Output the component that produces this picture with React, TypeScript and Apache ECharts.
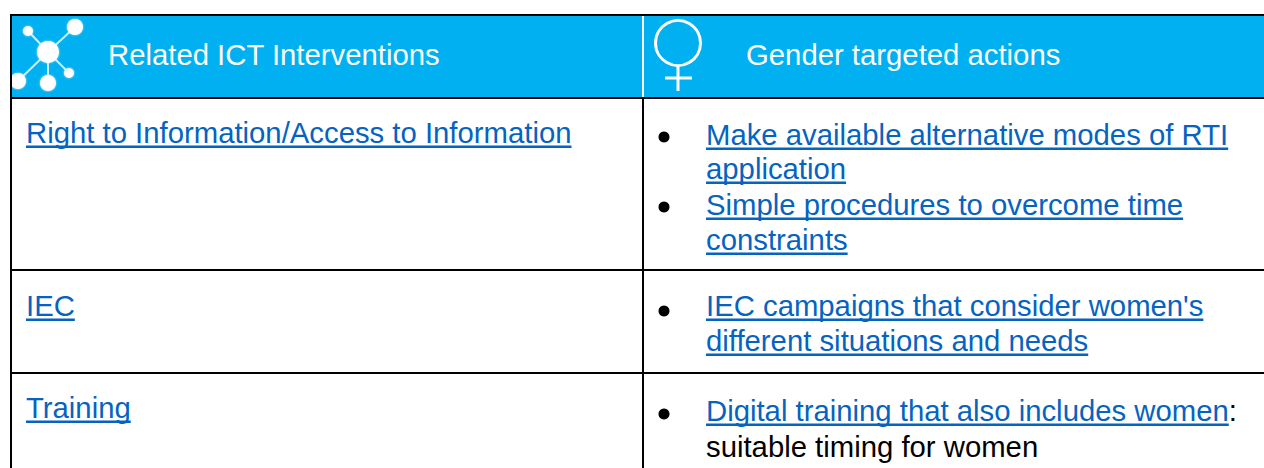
import React, { useEffect, useRef } from "react";
import * as echarts from "echarts";

const headers = ["Related ICT Interventions", "Gender targeted actions"];
const interventions = ["Right to Information/Access to Information", "IEC", "Training"];
const actionLines = [
  "Make available alternative modes of RTI",
  "application",
  "Simple procedures to overcome time",
  "constraints",
  "IEC campaigns that consider women's",
  "different situations and needs",
  "Digital training that also includes women",
  "suitable timing for women",
];

const FONT = '"Liberation Sans", Arial, sans-serif';
const SIZE = 29.3;
const LINK = "#0563C1";
const BLUE = "#00B0F0";
const DROP = 4;

function textWidth(t: string) {
  const c = document.createElement("canvas").getContext("2d")!;
  c.font = `${SIZE}px ${FONT}`;
  return c.measureText(t).width;
}

function label(t: string, x: number, baseline: number, color: string) {
  return { type: "text", x, y: baseline + DROP, style: { text: t, fill: color, font: `${SIZE}px ${FONT}`, textBaseline: "bottom", textVerticalAlign: "bottom" } };
}

function linkText(t: string, x: number, baseline: number, color = LINK, underline = true) {
  const out: any[] = [label(t, x, baseline, color)];
  if (underline) {
    out.push({ type: "rect", shape: { x, y: baseline + 2.5, width: textWidth(t), height: 2.5 }, style: { fill: color } });
  }
  return out;
}

export default function App() {
  const ref = useRef<HTMLDivElement>(null);
  useEffect(() => {
    document.body.style.margin = "0";
    const chart = echarts.init(ref.current!, undefined, { renderer: "svg" });
    const els: any[] = [];
    const bar = (x: number, y: number, width: number, height: number, fill = "#000") =>
      els.push({ type: "rect", shape: { x, y, width, height }, style: { fill } });
    const white = { fill: "#fff", shadowBlur: 2, shadowColor: "rgba(255,255,255,0.7)" };
    const seg = (x1: number, y1: number, x2: number, y2: number, w = 2, stroke = "rgba(255,255,255,0.8)") =>
      els.push({ type: "line", shape: { x1, y1, x2, y2 }, style: { stroke, lineWidth: w } });
    const dot = (cx: number, cy: number, r: number) =>
      els.push({ type: "circle", shape: { cx, cy, r }, style: white });

    bar(11, 15, 1253, 83, BLUE);
    bar(642, 16, 2, 82, "#fff");

    [[75, 27], [28, 31], [69, 73], [48, 83], [18, 81]].forEach(([x, y]) => seg(48, 52, x, y));
    dot(48, 52, 11); dot(75, 27, 8); dot(28, 31, 5); dot(69, 73, 5); dot(48, 83, 8); dot(18, 81, 8);

    els.push({ type: "circle", shape: { cx: 678, cy: 43, r: 22.5 }, style: { fill: "none", stroke: "#fff", lineWidth: 3 } });
    seg(678, 65, 678, 91, 3, "#fff");
    seg(665, 78, 692, 78, 3, "#fff");

    bar(10, 14, 1254, 2);
    bar(10, 97, 1254, 2);
    bar(10, 269, 1254, 2);
    bar(10, 372, 1254, 2);
    bar(10, 14, 2, 454);
    bar(642, 98, 2, 370);

    els.push(label(headers[0], 108, 65, "#fff"));
    els.push(label(headers[1], 746, 65, "#fff"));

    [143, 316, 418].forEach((b, i) => els.push(...linkText(interventions[i], 26, b)));

    const baselines = [145, 179, 215, 250, 316, 351, 421, 457];
    actionLines.forEach((t, i) => els.push(...linkText(t, 706, baselines[i], i === 7 ? "#000" : LINK, i !== 7)));
    els.push(label(":", 706 + textWidth(actionLines[6]), 421, "#000"));

    [137, 207, 311, 414].forEach((cy) =>
      els.push({ type: "circle", shape: { cx: 664, cy, r: 5.5 }, style: { fill: "#000" } }));

    chart.setOption({ animation: false, graphic: { elements: els } });
    return () => chart.dispose();
  }, []);
  return <div ref={ref} style={{ width: 1264, height: 468 }} />;
}
